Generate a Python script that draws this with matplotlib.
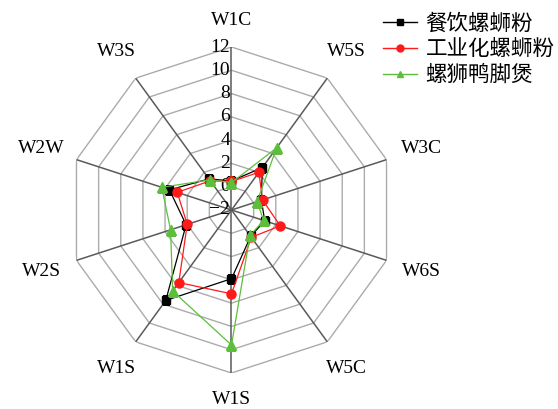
import numpy as np
import matplotlib
matplotlib.use("Agg")
import matplotlib.pyplot as plt
from matplotlib.lines import Line2D

plt.rcParams['font.family'] = ['Liberation Serif', 'Noto Sans CJK SC']
plt.rcParams['axes.unicode_minus'] = True

# axes, clockwise from the top
categories = ['W1C', 'W5S', 'W3C', 'W6S', 'W5C', 'W1S', 'W1S', 'W2S', 'W2W', 'W3S']
series_names = ['餐饮螺蛳粉', '工业化螺蛳粉', '螺狮鸭脚煲']
canyin = [0.5, 2.5, 0.7, 1.0, 0.8, 3.9, 7.6, 2.1, 3.6, 1.3]
gongye = [0.45, 2.0, 0.8, 2.4, 0.9, 5.2, 5.7, 2.0, 2.9, 1.1]
yajiao = [0.35, 4.6, 0.3, 0.9, 0.7, 9.6, 6.6, 3.5, 4.3, 1.2]
r_ticks = [-2, 0, 2, 4, 6, 8, 10, 12]

fig = plt.figure(figsize=(5.58, 4.09), dpi=100)
ax = fig.add_axes([68.5 / 558, 36 / 409, 326 / 558, 326 / 409], polar=True)
ax.set_theta_zero_location('N')
ax.set_theta_direction(-1)
ax.set_ylim(-2, 12)
ax.grid(False)
ax.set_xticks([])
ax.set_yticks([])
ax.spines['polar'].set_visible(False)
ax.patch.set_alpha(0)

n = len(categories)
theta = np.linspace(0, 2 * np.pi, n, endpoint=False)
theta_closed = np.append(theta, theta[0])

# decagon rings
for v in r_ticks[1:]:
    ax.plot(theta_closed, [v] * (n + 1), color='#ababab', lw=1.0, zorder=1)
# spokes
for t in theta:
    ax.plot([t, t], [-2, 12], color='#5a5a5a', lw=1.1, zorder=2)

# tick labels on the top spoke
for v in r_ticks:
    ax.annotate(str(v).replace('-', '\u2212'), xy=(0, v), xytext=(-1, 0),
                textcoords='offset points', ha='right', va='center',
                fontsize=14, zorder=3)

# category labels
for t, lab in zip(theta, categories):
    rr = 14.3 + 0.9 * abs(np.sin(t))
    ax.text(t, rr, lab, ha='center', va='center', fontsize=14, clip_on=False)

styles = [
    (canyin, 'black', 's', 5.5),
    (gongye, '#ff1a1a', 'o', 6.5),
    (yajiao, '#5cbf3c', '^', 7.5),
]
handles = []
for (vals, c, m, ms), name in zip(styles, series_names):
    ax.plot(theta_closed, vals + vals[:1], color=c, lw=0.9, marker=m,
            markersize=ms, zorder=5)
    handles.append(Line2D([], [], color=c, lw=1.0, marker=m, markersize=5,
                          label=name))

fig.legend(handles=handles, loc='upper left', bbox_to_anchor=(374 / 558, 1 - 6 / 409),
           frameon=False, fontsize=15.5, handlelength=1.6, handletextpad=0.4,
           labelspacing=0.25, borderaxespad=0.0)

fig.savefig('out.png', dpi=100)
